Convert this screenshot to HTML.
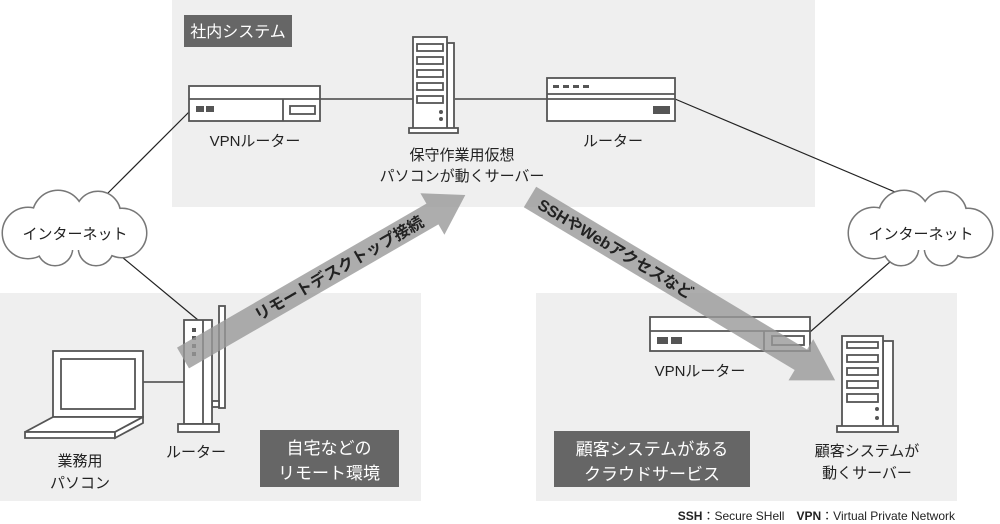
<!DOCTYPE html>
<html><head><meta charset="utf-8"><style>
html,body{margin:0;padding:0;background:#fff;}
svg{display:block;}
text{font-family:"Liberation Sans","Noto Sans CJK JP",sans-serif;fill:#222;}
</style></head><body>
<svg width="1000" height="524" viewBox="0 0 1000 524" xmlns="http://www.w3.org/2000/svg">
<rect x="172" y="0" width="643" height="207" fill="#efefef"/>
<rect x="0" y="293" width="421" height="208" fill="#efefef"/>
<rect x="536" y="293" width="421" height="208" fill="#efefef"/>
<g stroke="#222" stroke-width="1.2" fill="none">
<line x1="105" y1="196" x2="189" y2="112"/>
<line x1="122" y1="257" x2="198" y2="320"/>
<line x1="320" y1="99" x2="413" y2="99"/>
<line x1="455" y1="99" x2="547" y2="99"/>
<line x1="675" y1="99" x2="895" y2="192"/>
<line x1="890" y1="262" x2="810" y2="332"/>
<line x1="143" y1="382" x2="184" y2="382"/>
</g>
<rect x="184" y="15" width="108" height="32" fill="#666"/>
<text x="238" y="37" font-size="16" text-anchor="middle" style="fill:#fff">社内システム</text>
<rect x="260" y="430" width="139" height="57" fill="#666"/>
<text x="329" y="454" font-size="17" text-anchor="middle" style="fill:#fff">自宅などの</text>
<text x="329" y="479" font-size="17" text-anchor="middle" style="fill:#fff">リモート環境</text>
<rect x="554" y="431" width="196" height="56" fill="#666"/>
<text x="652" y="455" font-size="17" text-anchor="middle" style="fill:#fff">顧客システムがある</text>
<text x="652" y="480" font-size="17" text-anchor="middle" style="fill:#fff">クラウドサービス</text>
<g stroke="#555" stroke-width="1.8" fill="#fff">
<rect x="189" y="86" width="131" height="35"/>
<line x1="189" y1="99" x2="320" y2="99"/>
<line x1="283" y1="99" x2="283" y2="121"/>
<rect x="290" y="106" width="25" height="8"/>
</g>
<rect x="196" y="106" width="8" height="6" fill="#555"/><rect x="206" y="106" width="8" height="6" fill="#555"/>
<g stroke="#555" stroke-width="1.8" fill="#fff">
<rect x="447" y="43" width="7" height="86"/>
<rect x="413" y="37" width="34" height="92"/>
<rect x="409" y="128" width="49" height="5"/>
<rect x="417" y="44" width="26" height="7"/>
<rect x="417" y="57" width="26" height="7"/>
<rect x="417" y="70" width="26" height="7"/>
<rect x="417" y="83" width="26" height="7"/>
<rect x="417" y="96" width="26" height="7"/>
</g>
<circle cx="441" cy="112" r="2" fill="#555"/><circle cx="441" cy="119" r="2" fill="#555"/>
<g stroke="#555" stroke-width="1.8" fill="#fff">
<rect x="547" y="78" width="128" height="43"/>
<line x1="547" y1="94" x2="675" y2="94"/>
<line x1="547" y1="99" x2="675" y2="99"/>
</g>
<g fill="#555"><rect x="553" y="85" width="6" height="3"/><rect x="563" y="85" width="6" height="3"/><rect x="573" y="85" width="6" height="3"/><rect x="583" y="85" width="6" height="3"/><rect x="653" y="106" width="17" height="8"/></g>
<text x="255" y="146" font-size="15" text-anchor="middle">VPNルーター</text>
<text x="613" y="146" font-size="15" text-anchor="middle">ルーター</text>
<text x="462" y="160" font-size="15" text-anchor="middle">保守作業用仮想</text>
<text x="462" y="181" font-size="15" text-anchor="middle">パソコンが動くサーバー</text>
<g id="cl">
<g fill="none" stroke="#777" stroke-width="3">
<circle cx="28" cy="233" r="25"/><circle cx="58" cy="216" r="25"/><circle cx="98" cy="214" r="22"/><circle cx="122" cy="233" r="24"/><circle cx="96" cy="248" r="17"/><circle cx="55" cy="248" r="17"/>
</g>
<g fill="#fff">
<circle cx="28" cy="233" r="25"/><circle cx="58" cy="216" r="25"/><circle cx="98" cy="214" r="22"/><circle cx="122" cy="233" r="24"/><circle cx="96" cy="248" r="17"/><circle cx="55" cy="248" r="17"/><rect x="30" y="220" width="95" height="30"/>
</g>
</g>
<use href="#cl" transform="translate(846,0)"/>
<text x="75" y="239" font-size="15" text-anchor="middle">インターネット</text>
<text x="921" y="239" font-size="15" text-anchor="middle">インターネット</text>
<g stroke="#555" stroke-width="1.8" fill="#fff">
<rect x="53" y="351" width="90" height="66"/>
<rect x="61" y="359" width="74" height="50"/>
<polygon points="25,432 53,417 143,417 115,432"/>
<polygon points="25,432 115,432 115,438 25,438"/>
<polygon points="115,432 143,417 143,423 115,438"/>
</g>
<g stroke="#555" stroke-width="1.8" fill="#fff">
<rect x="219" y="306" width="6" height="102"/>
<rect x="212" y="401" width="7" height="6"/>
<rect x="184" y="320" width="28" height="104"/>
<line x1="203" y1="320" x2="203" y2="424"/>
<rect x="178" y="424" width="41" height="8"/>
</g>
<g fill="#555"><rect x="192" y="328" width="4" height="4"/><rect x="192" y="336" width="4" height="4"/><rect x="192" y="344" width="4" height="4"/><rect x="192" y="352" width="4" height="4"/></g>
<text x="196" y="457" font-size="15" text-anchor="middle">ルーター</text>
<text x="80" y="466" font-size="15" text-anchor="middle">業務用</text>
<text x="80" y="488" font-size="15" text-anchor="middle">パソコン</text>
<g stroke="#555" stroke-width="1.8" fill="#fff">
<rect x="650" y="317" width="160" height="34"/>
<line x1="650" y1="331" x2="810" y2="331"/>
<line x1="764" y1="331" x2="764" y2="351"/>
<rect x="772" y="336" width="32" height="9"/>
</g>
<rect x="657" y="337" width="11" height="7" fill="#555"/><rect x="671" y="337" width="11" height="7" fill="#555"/>
<text x="700" y="376" font-size="15" text-anchor="middle">VPNルーター</text>
<g stroke="#555" stroke-width="1.8" fill="#fff">
<rect x="883" y="341" width="10" height="86"/>
<rect x="842" y="336" width="41" height="91"/>
<rect x="837" y="426" width="61" height="6"/>
<rect x="847" y="342" width="31" height="6"/>
<rect x="847" y="355" width="31" height="7"/>
<rect x="847" y="368" width="31" height="7"/>
<rect x="847" y="381" width="31" height="7"/>
<rect x="847" y="394" width="31" height="8"/>
</g>
<circle cx="877" cy="409" r="2" fill="#555"/><circle cx="877" cy="418" r="2" fill="#555"/>
<text x="867" y="456" font-size="15" text-anchor="middle">顧客システムが</text>
<text x="867" y="478" font-size="15" text-anchor="middle">動くサーバー</text>
<g transform="translate(183,358) rotate(-30)">
<polygon points="0,-12 288,-12 288,-24 326,0 288,24 288,12 0,12" fill="#999" fill-opacity="0.8"/>
<text x="180" y="6" font-size="16" font-weight="bold" text-anchor="middle">リモートデスクトップ接続</text>
</g>
<g transform="translate(530,197) rotate(31)">
<polygon points="0,-12 316,-12 316,-24 356,0 316,24 316,12 0,12" fill="#999" fill-opacity="0.8"/>
<text x="100" y="6" font-size="16" font-weight="bold" text-anchor="middle">SSHやWebアクセスなど</text>
</g>
<text x="955" y="520" font-size="12" text-anchor="end"><tspan font-weight="bold">SSH</tspan>：Secure SHell　<tspan font-weight="bold">VPN</tspan>：Virtual Private Network</text>
</svg>
</body></html>
